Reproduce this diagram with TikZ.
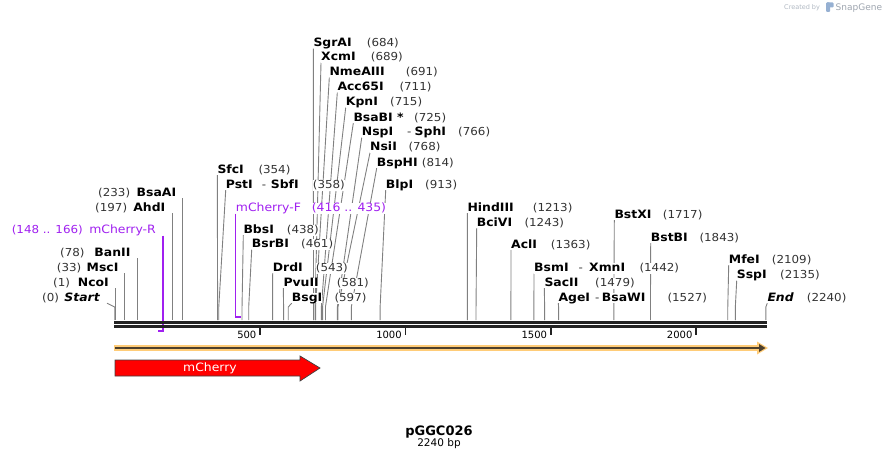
\documentclass[tikz,border=0pt]{standalone}
\usepackage{fontspec}
\setmainfont{DejaVu Sans}
\newfontfamily\labelfont[FakeStretch=1.08]{DejaVu Sans}
\usetikzlibrary{positioning,backgrounds}

\definecolor{primerpurple}{RGB}{160,32,240}
\definecolor{featorange}{RGB}{255,204,120}
\definecolor{featdark}{RGB}{77,64,45}
\definecolor{cutgray}{RGB}{128,128,128}
\definecolor{backboneblack}{RGB}{34,34,34}
\definecolor{logogray}{RGB}{176,184,194}
\definecolor{logoblue}{RGB}{150,176,210}

\tikzset{
    site/.style={font=\labelfont\bfseries\fontsize{11.5}{13}\selectfont, fill=white, inner sep=0pt, text height=8.5pt, text depth=2pt, anchor=base west},
    endsite/.style={site, font=\labelfont\bfseries\itshape\fontsize{11.5}{13}\selectfont},
    num/.style={font=\labelfont\fontsize{11}{13}\selectfont, text=black!80, fill=white, inner sep=0pt, text height=8.5pt, text depth=2.5pt, anchor=base west},
    primerlabel/.style={font=\labelfont\fontsize{11.5}{13}\selectfont, text=primerpurple, fill=white, inner sep=0pt, text height=8.5pt, text depth=2.5pt, anchor=base west},
    cutline/.style={cutgray, line width=0.9pt},
    primer/.style={primerpurple, line width=1.4pt},
    backbone/.style={backboneblack},
    tick/.style={backboneblack, line width=1.8pt},
    ticklabel/.style={font=\fontsize{10}{12}\selectfont, inner sep=0pt, anchor=base east}
}

\begin{document}
\begin{tikzpicture}[x=1pt,y=-1pt]
    \useasboundingbox (0,0) rectangle (882,460);
    \coordinate (bend) at (0,307);
    \coordinate (rfoot) at (0,331);
    \coordinate (ffoot) at (0,317);
    \foreach \p in {0,1,33,78,148,166,197,233,354,358,416,435,438,461,543,581,597,684,689,691,711,715,725,766,768,814,913,1213,1243,1363,1442,1479,1527,1717,1843,2109,2135,2240}
        \coordinate (c\p) at ({114.7+0.2907*\p},320);

    % sequence line
    \draw [backbone,line width=3pt] (114,322) -- (767,322);
    \draw [backbone,line width=2.5pt] (114,326.3) -- (767,326.3);
    \foreach \t in {500,1000,1500,2000} {
        \draw [tick] ({114.7+0.2907*\t},328) -- ++(0,7);
        \node [ticklabel] (tick\t) at ({111.2+0.2907*\t},338) {\t};
    }

    % left side
    \node [endsite,anchor=base east] (start) at (100,301) {Start};
    \node [num] (n0) at (42,301) {(0)};
    \node [site,anchor=base east] (ncoi) at (109,286) {NcoI};
    \node [num] (n1) at (53,286) {(1)};
    \node [site,anchor=base east] (msci) at (118.6,271) {MscI};
    \node [num] (n33) at (56.7,271) {(33)};
    \node [site,anchor=base east] (banii) at (130.6,256) {BanII};
    \node [num] (n78) at (60,256) {(78)};
    \node [primerlabel,anchor=base east] (mcherryr) at (156,233) {mCherry-R};
    \node [primerlabel,font=\labelfont\fontsize{11}{13}\selectfont,anchor=base east] (n148) at (83,233) {(148 .. 166)};
    \node [site,anchor=base east] (ahdi) at (165.5,211) {AhdI};
    \node [num] (n197) at (95,211) {(197)};
    \node [site,anchor=base east] (bsaai) at (176.4,196) {BsaAI};
    \node [num] (n233) at (98,196) {(233)};

    % middle
    \node [site] (sfci) at (217.3,173) {SfcI};
    \node [num] (n354) at (258.3,173) {(354)};
    \node [site] (psti) at (225.7,188) {PstI};
    \node [num] (psti dash) at (261.7,188) {-};
    \node [site] (sbfi) at (270.7,188) {SbfI};
    \node [num] (n358) at (312.7,188) {(358)};
    \node [primerlabel] (mcherryf) at (235.7,211) {mCherry-F};
    \node [primerlabel] (n416) at (311.7,211) {(416 .. 435)};
    \node [site] (bbsi) at (243.3,233) {BbsI};
    \node [num] (n438) at (286.7,233) {(438)};
    \node [site] (bsrbi) at (251.7,247.5) {BsrBI};
    \node [num] (n461) at (301,247.5) {(461)};
    \node [site] (drdi) at (272.7,271) {DrdI};
    \node [num] (n543) at (315.7,271) {(543)};
    \node [site] (pvuii) at (283.3,286) {PvuII};
    \node [num] (n581) at (336.7,286) {(581)};
    \node [site] (bsgi) at (291.7,301) {BsgI};
    \node [num] (n597) at (334.3,301) {(597)};

    % top cluster
    \node [site] (sgrai) at (313.3,46.5) {SgrAI};
    \node [num] (n684) at (366.7,46.5) {(684)};
    \node [site] (xcmi) at (321,60.5) {XcmI};
    \node [num] (n689) at (370.7,60.5) {(689)};
    \node [site] (nmeaiii) at (329.3,75.5) {NmeAIII};
    \node [num] (n691) at (405.7,75.5) {(691)};
    \node [site] (acci) at (337.3,90.5) {Acc65I};
    \node [num] (n711) at (399.3,90.5) {(711)};
    \node [site] (kpni) at (345.7,105.5) {KpnI};
    \node [num] (n715) at (390,105.5) {(715)};
    \node [site] (bsabi) at (353.3,121) {BsaBI *};
    \node [num] (n725) at (414,121) {(725)};
    \node [site] (nspi) at (361.7,135.5) {NspI};
    \node [num] (nspi dash) at (407,135.5) {-};
    \node [site] (sphi) at (414.5,135.5) {SphI};
    \node [num] (n766) at (458,135.5) {(766)};
    \node [site] (nsii) at (370,150.5) {NsiI};
    \node [num] (n768) at (408.3,150.5) {(768)};
    \node [site] (bsphi) at (376.7,166) {BspHI};
    \node [num] (n814) at (421.7,166) {(814)};
    \node [site] (blpi) at (385.7,188) {BlpI};
    \node [num] (n913) at (425,188) {(913)};

    % right side
    \node [site] (hindiii) at (467.3,211) {HindIII};
    \node [num] (n1213) at (532.7,211) {(1213)};
    \node [site] (bcivi) at (476.7,226) {BciVI};
    \node [num] (n1243) at (524.3,226) {(1243)};
    \node [site] (acli) at (511,248) {AclI};
    \node [num] (n1363) at (550.7,248) {(1363)};
    \node [site] (bsmi) at (534,271.5) {BsmI};
    \node [num] (bsmi dash) at (578.3,271.5) {-};
    \node [site] (xmni) at (589,271.5) {XmnI};
    \node [num] (n1442) at (639.3,271.5) {(1442)};
    \node [site] (sacii) at (544.3,286) {SacII};
    \node [num] (n1479) at (595,286) {(1479)};
    \node [site] (agei) at (558.3,301) {AgeI};
    \node [num] (agei dash) at (595,301) {-};
    \node [site] (bsawi) at (601.7,301) {BsaWI};
    \node [num] (n1527) at (667.3,301) {(1527)};
    \node [site] (bstxi) at (614.3,218) {BstXI};
    \node [num] (n1717) at (662.7,218) {(1717)};
    \node [site] (bstbi) at (650.7,241) {BstBI};
    \node [num] (n1843) at (699.3,241) {(1843)};
    \node [site] (mfei) at (728.7,263) {MfeI};
    \node [num] (n2109) at (771.7,263) {(2109)};
    \node [site] (sspi) at (736.7,278.5) {SspI};
    \node [num] (n2135) at (780,278.5) {(2135)};
    \node [endsite] (end) at (767.3,301) {End};
    \node [num] (n2240) at (806.7,301) {(2240)};

    % cut lines, behind the labels
    \begin{scope}[on background layer]
        \draw [cutline] ([xshift=7pt]start.south east) -- (c0 |- bend) -- (c0);
        \draw [cutline] (ncoi.south east -| c1) -- (c1);
        \draw [cutline] (msci.south east -| c33) -- (c33);
        \draw [cutline] (banii.south east -| c78) -- (c78);
        \draw [primer] (mcherryr.south east -| c166) -- (c166 |- rfoot) -- (c148 |- rfoot);
        \draw [cutline] (ahdi.south east -| c197) -- (c197);
        \draw [cutline] (bsaai.south east -| c233) -- (c233);

        \draw [cutline] (sfci.south west) -- (c354 |- bend) -- (c354);
        \draw [cutline] (psti.south west) -- (c358 |- bend) -- (c358);
        \draw [primer] (mcherryf.south west -| c416) -- (c416 |- ffoot) -- (c435 |- ffoot);
        \draw [cutline] (bbsi.south west) -- (c438 |- bend) -- (c438);
        \draw [cutline] (bsrbi.south west) -- (c461 |- bend) -- (c461);
        \draw [cutline] (drdi.south west) -- (c543 |- bend) -- (c543);
        \draw [cutline] (pvuii.south west) -- (c581 |- bend) -- (c581);
        \draw [cutline] (bsgi.south west) -- (c597 |- bend) -- (c597);

        \draw [cutline] (sgrai.south west) -- (c684 |- bend) -- (c684);
        \draw [cutline] (xcmi.south west) -- (c689 |- bend) -- (c689);
        \draw [cutline] (nmeaiii.south west) -- (c691 |- bend) -- (c691);
        \draw [cutline] (acci.south west) -- (c711 |- bend) -- (c711);
        \draw [cutline] (kpni.south west) -- (c715 |- bend) -- (c715);
        \draw [cutline] (bsabi.south west) -- (c725 |- bend) -- (c725);
        \draw [cutline] (nspi.south west) -- (c766 |- bend) -- (c766);
        \draw [cutline] (nsii.south west) -- (c768 |- bend) -- (c768);
        \draw [cutline] (bsphi.south west) -- (c814 |- bend) -- (c814);
        \draw [cutline] (blpi.south west) -- (c913 |- bend) -- (c913);

        \draw [cutline] (hindiii.south west) -- (c1213 |- bend) -- (c1213);
        \draw [cutline] (bcivi.south west) -- (c1243 |- bend) -- (c1243);
        \draw [cutline] (acli.south west) -- (c1363 |- bend) -- (c1363);
        \draw [cutline] (bsmi.south west) -- (c1442 |- bend) -- (c1442);
        \draw [cutline] (sacii.south west) -- (c1479 |- bend) -- (c1479);
        \draw [cutline] (agei.south west) -- (c1527 |- bend) -- (c1527);
        \draw [cutline] (bstxi.south west) -- (c1717 |- bend) -- (c1717);
        \draw [cutline] (bstbi.south west) -- (c1843 |- bend) -- (c1843);
        \draw [cutline] (mfei.south west) -- (c2109 |- bend) -- (c2109);
        \draw [cutline] (sspi.south west) -- (c2135 |- bend) -- (c2135);
        \draw [cutline] (end.south west) -- (c2240 |- bend) -- (c2240);
    \end{scope}

    % features
    \draw [featorange,line width=6pt] (114,348) -- (759,348);
    \fill [featorange] (757,341.5) -- (768,348) -- (757,354.5) -- cycle;
    \draw [featdark,line width=2pt] (115,348) -- (760,348);
    \fill [featdark] (759,344) -- (765.5,348) -- (759,352) -- cycle;

    \filldraw [fill=red,draw=black!75,line width=0.7pt] (115,360) -- (300,360) -- (300,356) -- (320,368) -- (300,381) -- (300,376) -- (115,376) -- cycle;
    \node [font=\labelfont\fontsize{11.5}{13}\selectfont,text=white] (mcherry) at (210,368) {mCherry};

    % title
    \node [font=\bfseries\fontsize{13}{15}\selectfont,anchor=base] (title) at (439,435) {pGGC026};
    \node [font=\fontsize{10.5}{12}\selectfont,anchor=base] (size) at (439,446.5) {2240 bp};

    % logo
    \node [font=\fontsize{6.5}{8}\selectfont,text=logogray,anchor=base west,inner sep=0pt] (created) at (784,10) {Created by};
    \fill [logoblue,rounded corners=1pt] (826,2.5) rectangle (830,12);
    \fill [logoblue,rounded corners=1pt] (826,2.5) rectangle (833.5,7.5);
    \node [font=\fontsize{9}{10}\selectfont,text=logogray!90!black,anchor=base west,inner sep=0pt] (snapgene) at (835.5,11) {SnapGene};
\end{tikzpicture}
\end{document}
